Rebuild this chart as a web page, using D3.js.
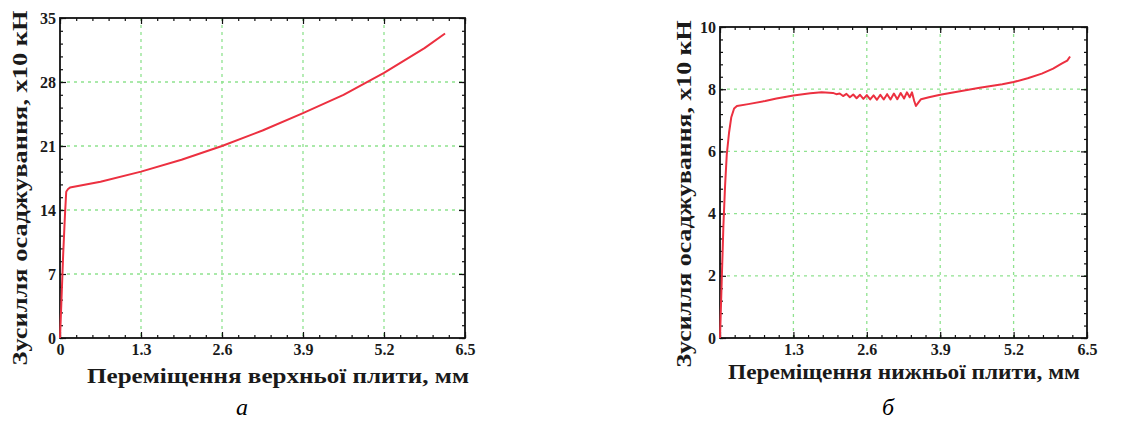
<!DOCTYPE html>
<html>
<head>
<meta charset="utf-8">
<script src="https://cdn.jsdelivr.net/npm/d3@7/dist/d3.min.js"></script>
<style>
  html, body { margin: 0; padding: 0; background: #ffffff; }
  svg { display: block; }
  .tick text { font-family: "Liberation Serif", "Times New Roman", serif; font-weight: bold; fill: #1a1a1a; }
</style>
</head>
<body>
<svg id="chart" width="1130" height="423"></svg>
<script>
// ---------- Panel (a): upper plate ----------
const xTicksA = [0, 1.3, 2.6, 3.9, 5.2, 6.5];
const xLabelsA = ["0", "1.3", "2.6", "3.9", "5.2", "6.5"];
const yTicksA = [0, 7, 14, 21, 28, 35];
const yLabelsA = ["0", "7", "14", "21", "28", "35"];
const dispA  = [0, 0.02, 0.05, 0.08, 0.10, 0.11, 0.13, 0.16, 0.65, 1.30, 1.95, 2.60, 3.25, 3.90, 4.55, 5.20, 5.85, 6.18];
const forceA = [0, 3.5, 9.0, 13.5, 16.0, 16.1, 16.3, 16.45, 17.1, 18.2, 19.5, 21.0, 22.7, 24.6, 26.6, 29.0, 31.7, 33.3];
const xTitleA = "Переміщення верхньої плити, мм";
const yTitleA = "Зусилля осаджування,  х10 кН";
const captionA = "а";

// ---------- Panel (b): lower plate ----------
const xTicksB = [0, 1.3, 2.6, 3.9, 5.2, 6.5];
const xLabelsB = ["", "1.3", "2.6", "3.9", "5.2", "6.5"];
const yTicksB = [0, 2, 4, 6, 8, 10];
const yLabelsB = ["0", "2", "4", "6", "8", "10"];
const dispB  = [0, 0.03, 0.06, 0.09, 0.12, 0.16, 0.20, 0.25, 0.30, 0.50, 0.80, 1.00, 1.30, 1.60, 1.80, 2.00,
                2.06, 2.12, 2.18, 2.24, 2.30, 2.36, 2.42, 2.48, 2.54, 2.60, 2.66, 2.72, 2.78, 2.84, 2.90, 2.96,
                3.02, 3.08, 3.14, 3.20, 3.26, 3.31, 3.36, 3.40, 3.44, 3.47, 3.51, 3.56, 3.70, 3.90, 4.20, 4.60,
                5.00, 5.20, 5.45, 5.70, 5.90, 6.05, 6.15, 6.20];
const forceB = [0, 1.8, 3.6, 4.9, 5.9, 6.6, 7.1, 7.38, 7.46, 7.52, 7.62, 7.70, 7.80, 7.87, 7.90, 7.88,
                7.84, 7.86, 7.78, 7.85, 7.74, 7.83, 7.71, 7.82, 7.69, 7.81, 7.67, 7.80, 7.66, 7.82, 7.67, 7.84,
                7.67, 7.86, 7.68, 7.88, 7.70, 7.90, 7.74, 7.90, 7.62, 7.46, 7.56, 7.68, 7.74, 7.82, 7.92, 8.05,
                8.16, 8.23, 8.35, 8.50, 8.66, 8.82, 8.92, 9.05];
const xTitleB = "Переміщення нижньої плити, мм";
const yTitleB = "Зусилля осаджування,  х10 кН";
const captionB = "б";

const svg = d3.select("#chart");
const serif = "'Liberation Serif', 'Times New Roman', serif";

function drawPanel(cfg) {
  const x = d3.scaleLinear().domain([0, 6.5]).range([cfg.left, cfg.right]);
  const y = d3.scaleLinear().domain([0, cfg.yMax]).range([cfg.bottom, cfg.top]);
  const g = svg.append("g");

  // grid
  const gridColor = "#8fe28f";
  g.append("g").selectAll("line.vg")
    .data(cfg.xTicks.filter(v => v > 0 && v < 6.5))
    .join("line")
    .attr("x1", d => x(d)).attr("x2", d => x(d))
    .attr("y1", cfg.top).attr("y2", cfg.bottom)
    .attr("stroke", gridColor).attr("stroke-width", 1.3)
    .attr("stroke-dasharray", "3,4");
  g.append("g").selectAll("line.hg")
    .data(cfg.yTicks.filter(v => v > 0 && v < cfg.yMax))
    .join("line")
    .attr("x1", cfg.left).attr("x2", cfg.right)
    .attr("y1", d => y(d)).attr("y2", d => y(d))
    .attr("stroke", gridColor).attr("stroke-width", 1.3)
    .attr("stroke-dasharray", "3,4");

  // minor ticks
  const xMinor = d3.range(0, 6.5 + 1e-9, 0.26);
  const yMinor = d3.range(0, cfg.yMax + 1e-9, cfg.yMinorStep);

  const mk = (axis, tr) => {
    const a = g.append("g").attr("transform", tr).call(axis);
    a.select(".domain").remove();
    a.selectAll(".tick line").attr("stroke", "#111").attr("stroke-width", 1.2);
    return a;
  };

  mk(d3.axisBottom(x).tickValues(xMinor).tickSize(-3).tickFormat(""), `translate(0,${cfg.bottom})`);
  mk(d3.axisTop(x).tickValues(xMinor).tickSize(-3).tickFormat(""), `translate(0,${cfg.top})`);
  mk(d3.axisLeft(y).tickValues(yMinor).tickSize(-3).tickFormat(""), `translate(${cfg.left},0)`);
  mk(d3.axisRight(y).tickValues(yMinor).tickSize(-3).tickFormat(""), `translate(${cfg.right},0)`);

  // major ticks with labels
  const xb = mk(d3.axisBottom(x).tickValues(cfg.xTicks).tickSize(-6).tickPadding(4)
      .tickFormat((d, i) => cfg.xLabels[i]), `translate(0,${cfg.bottom})`);
  xb.selectAll(".tick text").attr("font-size", 16).attr("font-family", serif).attr("font-weight", "bold").attr("dy", "0.8em");
  mk(d3.axisTop(x).tickValues(cfg.xTicks).tickSize(-6).tickFormat(""), `translate(0,${cfg.top})`);
  const yl = mk(d3.axisLeft(y).tickValues(cfg.yTicks).tickSize(-6).tickPadding(4)
      .tickFormat((d, i) => cfg.yLabels[i]), `translate(${cfg.left},0)`);
  yl.selectAll(".tick text").attr("font-size", 16).attr("font-family", serif).attr("font-weight", "bold");
  mk(d3.axisRight(y).tickValues(cfg.yTicks).tickSize(-6).tickFormat(""), `translate(${cfg.right},0)`);

  // frame
  g.append("rect")
    .attr("x", cfg.left).attr("y", cfg.top)
    .attr("width", cfg.right - cfg.left).attr("height", cfg.bottom - cfg.top)
    .attr("fill", "none").attr("stroke", "#111").attr("stroke-width", 1.8);

  // curve
  const pts = cfg.xs.map((d, i) => [d, cfg.ys[i]]);
  g.append("path")
    .datum(pts)
    .attr("fill", "none")
    .attr("stroke", "#ec3040")
    .attr("stroke-width", 2)
    .attr("stroke-linejoin", "round")
    .attr("d", d3.line().x(d => x(d[0])).y(d => y(d[1])));

  // axis titles
  g.append("text")
    .attr("x", cfg.xTitleX).attr("y", cfg.xTitleY)
    .attr("text-anchor", "middle")
    .attr("font-family", serif).attr("font-weight", "bold").attr("font-size", 22)
    .attr("fill", "#1a1a1a")
    .attr("textLength", cfg.xTitleLen).attr("lengthAdjust", "spacingAndGlyphs")
    .text(cfg.xTitle);
  g.append("text")
    .attr("transform", `translate(${cfg.yTitleX},${cfg.yTitleY}) rotate(-90)`)
    .attr("text-anchor", "middle")
    .attr("font-family", serif).attr("font-weight", "bold").attr("font-size", 22)
    .attr("fill", "#1a1a1a")
    .attr("textLength", cfg.yTitleLen).attr("lengthAdjust", "spacingAndGlyphs")
    .text(cfg.yTitle);

  // caption
  g.append("text")
    .attr("x", cfg.capX).attr("y", cfg.capY)
    .attr("text-anchor", "middle")
    .attr("font-family", serif).attr("font-style", "italic").attr("font-size", 24)
    .attr("fill", "#000")
    .text(cfg.caption);
}

drawPanel({
  left: 60, right: 465, top: 18, bottom: 338, yMax: 35, yMinorStep: 1.4,
  xTicks: xTicksA, xLabels: xLabelsA, yTicks: yTicksA, yLabels: yLabelsA,
  xs: dispA, ys: forceA,
  xTitle: xTitleA, xTitleX: 278, xTitleY: 383, xTitleLen: 382,
  yTitle: yTitleA, yTitleX: 27, yTitleY: 188, yTitleLen: 355,
  caption: captionA, capX: 242, capY: 415
});

drawPanel({
  left: 720, right: 1087, top: 27, bottom: 338, yMax: 10, yMinorStep: 0.4,
  xTicks: xTicksB, xLabels: xLabelsB, yTicks: yTicksB, yLabels: yLabelsB,
  xs: dispB, ys: forceB,
  xTitle: xTitleB, xTitleX: 904, xTitleY: 379, xTitleLen: 352,
  yTitle: yTitleB, yTitleX: 691, yTitleY: 194, yTitleLen: 347,
  caption: captionB, capX: 888, capY: 415
});
</script>
</body>
</html>
